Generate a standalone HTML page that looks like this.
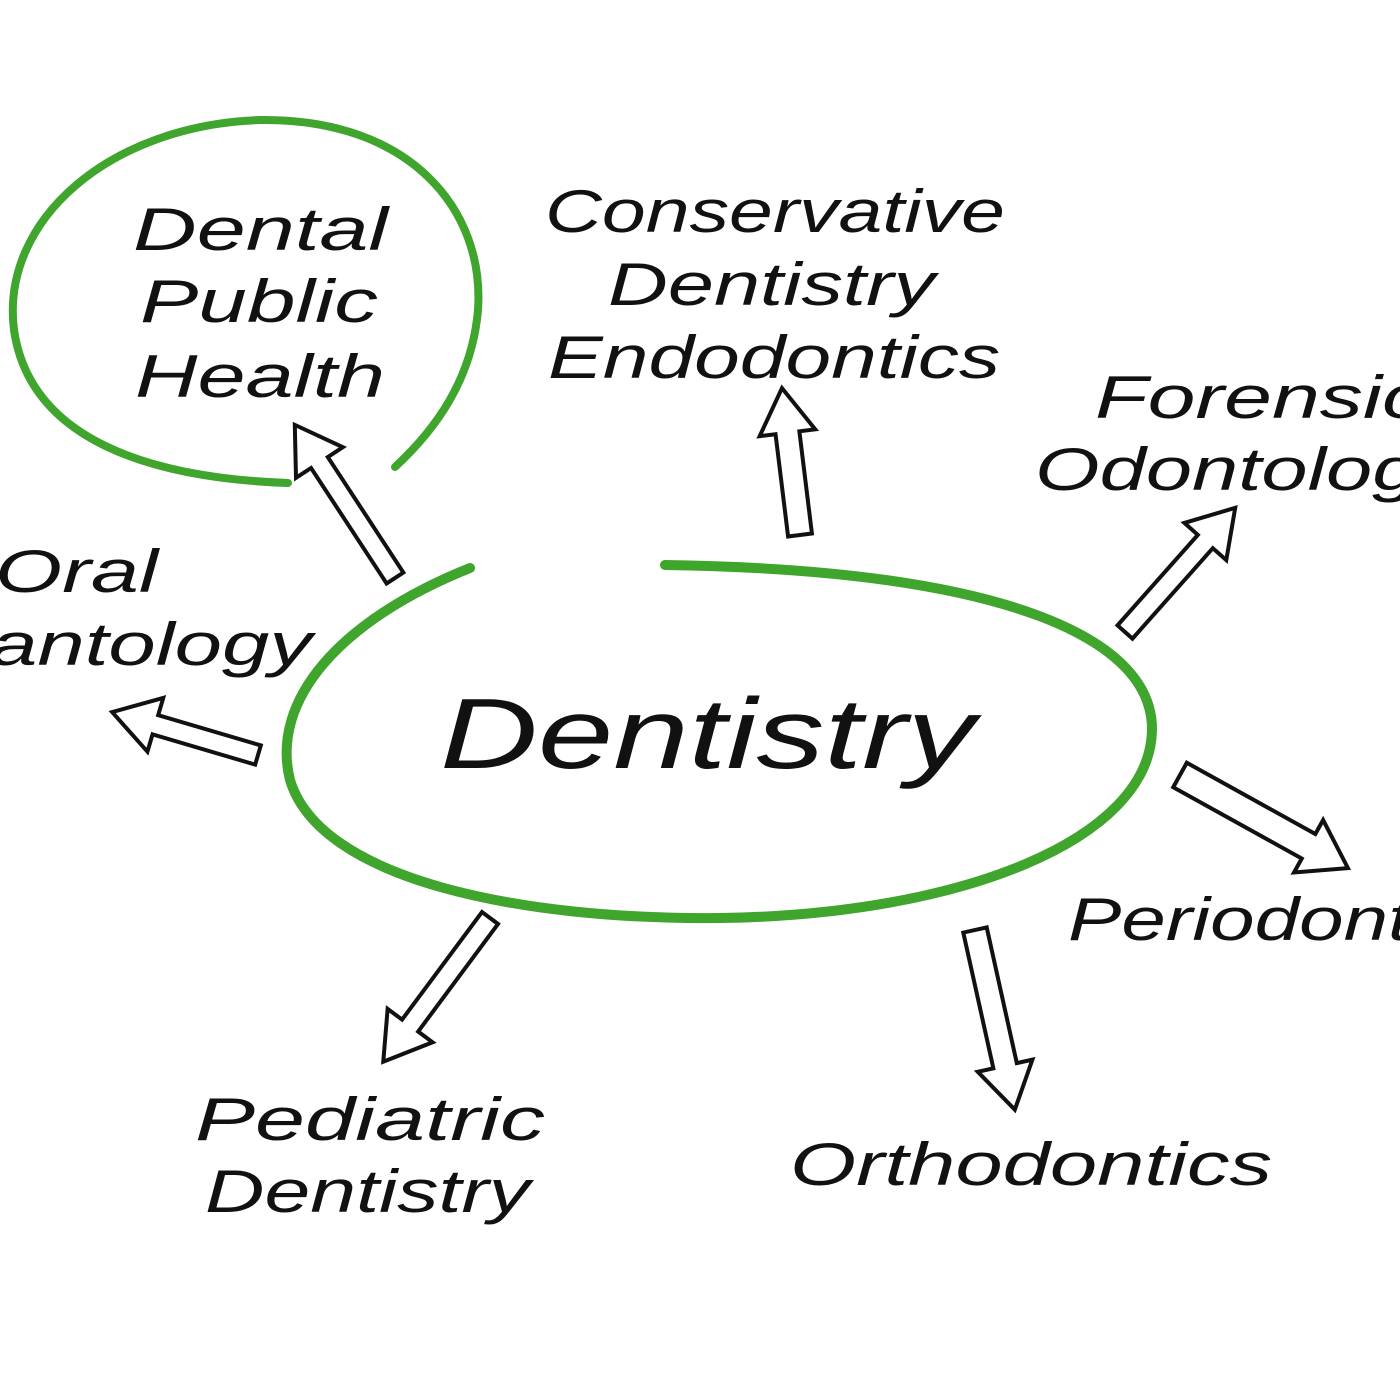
<!DOCTYPE html>
<html><head><meta charset="utf-8"><style>
html,body{margin:0;padding:0;background:#fff;}
svg{display:block}
text{font-family:"Liberation Sans","DejaVu Sans",sans-serif;font-style:italic;fill:#111;}
</style></head><body>
<svg width="1400" height="1400" viewBox="0 0 1400 1400" xmlns="http://www.w3.org/2000/svg">
<rect width="1400" height="1400" fill="#fff"/>
<path d="M288,483 C150,478 30,440 14,330 C0,220 110,125 260,120 C410,118 485,210 478,310 C472,380 435,430 395,467" fill="none" stroke="#3fa52c" stroke-width="8" stroke-linecap="round"/>
<path d="M470,568 C340,620 270,700 290,780 C320,880 520,920 720,918 C960,915 1150,840 1152,730 C1153,640 1010,570 665,565" fill="none" stroke="#3fa52c" stroke-width="10" stroke-linecap="round"/>
<g fill="#fff" stroke="#111" stroke-width="4" stroke-linejoin="miter">
<polygon transform="translate(395,578) rotate(-123.2)" points="0,-10 138,-10 138,-28 183,0 138,28 138,10 0,10"/>
<polygon transform="translate(800,535) rotate(-97)" points="0,-12 103,-12 103,-28 148,0 103,28 103,12 0,12"/>
<polygon transform="translate(1125,632) rotate(-48.4)" points="0,-10 121,-10 121,-28 166,0 121,28 121,10 0,10"/>
<polygon transform="translate(258,755) rotate(196.4)" points="0,-10 107,-10 107,-28 152,0 107,28 107,10 0,10"/>
<polygon transform="translate(1180,775) rotate(29)" points="0,-14 147,-14 147,-30 192,0 147,30 147,14 0,14"/>
<polygon transform="translate(490,918) rotate(126.6)" points="0,-10 134,-10 134,-28 179,0 134,28 134,10 0,10"/>
<polygon transform="translate(975,930) rotate(77.5)" points="0,-12 139,-12 139,-28 184,0 139,28 139,12 0,12"/>
</g>
<g font-size="60" lengthAdjust="spacingAndGlyphs">
<text x="133" y="250" textLength="255" lengthAdjust="spacingAndGlyphs">Dental</text>
<text x="140" y="322" textLength="238" lengthAdjust="spacingAndGlyphs">Public</text>
<text x="135" y="397" textLength="250" lengthAdjust="spacingAndGlyphs">Health</text>
<text x="545" y="232" textLength="460" lengthAdjust="spacingAndGlyphs">Conservative</text>
<text x="608" y="305" textLength="327" lengthAdjust="spacingAndGlyphs">Dentistry</text>
<text x="548" y="378" textLength="452" lengthAdjust="spacingAndGlyphs">Endodontics</text>
<text x="1095" y="418" textLength="330" lengthAdjust="spacingAndGlyphs">Forensic</text>
<text x="1035" y="490" textLength="425" lengthAdjust="spacingAndGlyphs">Odontology</text>
<text x="-5" y="592" textLength="163" lengthAdjust="spacingAndGlyphs">Oral</text>
<text x="-10" y="665" textLength="322" lengthAdjust="spacingAndGlyphs">antology</text>
<text x="1068" y="940" textLength="440" lengthAdjust="spacingAndGlyphs">Periodontics</text>
<text x="195" y="1140" textLength="350" lengthAdjust="spacingAndGlyphs">Pediatric</text>
<text x="205" y="1212" textLength="325" lengthAdjust="spacingAndGlyphs">Dentistry</text>
<text x="790" y="1185" textLength="482" lengthAdjust="spacingAndGlyphs">Orthodontics</text>
</g>
<text x="440" y="768" font-size="100" textLength="535" lengthAdjust="spacingAndGlyphs">Dentistry</text>
</svg>
</body></html>
